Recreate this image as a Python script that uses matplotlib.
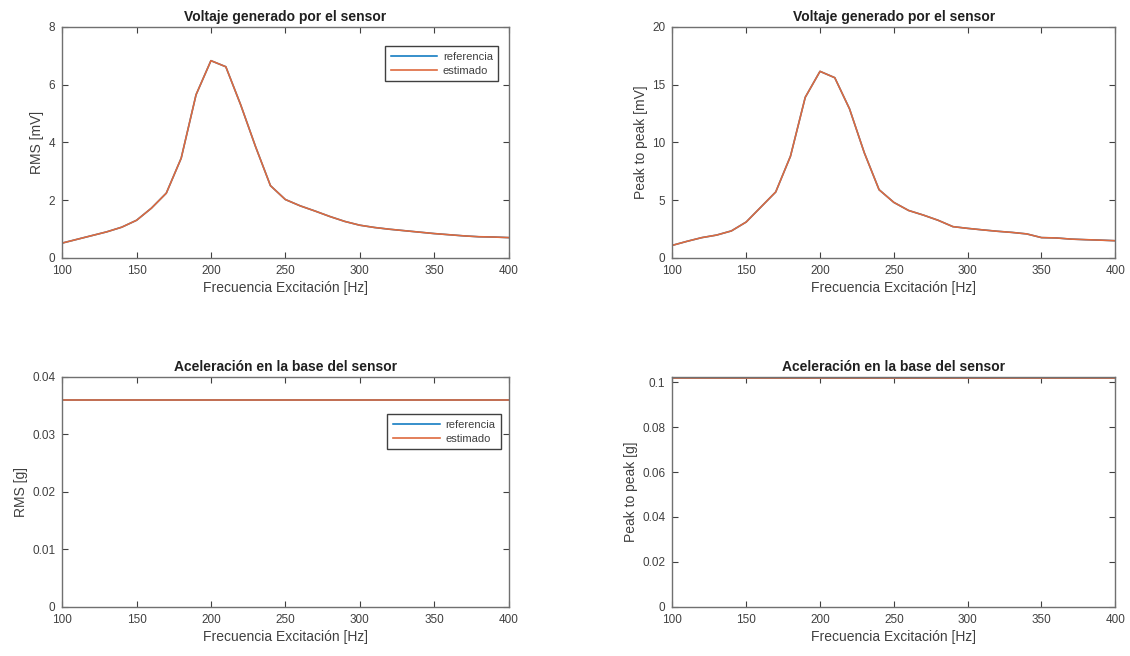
import numpy as np
import matplotlib
matplotlib.use("Agg")
from matplotlib import pyplot as plt

plt.rcParams['font.family'] = ['Liberation Sans', 'DejaVu Sans']

# excitation frequency [Hz]
freq = np.arange(100, 401, 10)

# sensor voltage, RMS [mV]
v_rms = [0.51, 0.64, 0.77, 0.90, 1.06, 1.30, 1.72, 2.24, 3.45, 5.65, 6.83,
         6.62, 5.30, 3.85, 2.50, 2.02, 1.80, 1.62, 1.43, 1.26, 1.13, 1.05,
         0.99, 0.94, 0.89, 0.84, 0.80, 0.76, 0.73, 0.72, 0.70]

# sensor voltage, peak to peak [mV]
v_pp = [1.08, 1.43, 1.75, 1.97, 2.33, 3.10, 4.40, 5.70, 8.80, 13.9, 16.15,
        15.6, 12.9, 9.10, 5.90, 4.80, 4.10, 3.70, 3.25, 2.70, 2.55, 2.42,
        2.30, 2.20, 2.07, 1.75, 1.72, 1.62, 1.57, 1.53, 1.48]

# base acceleration [g]
a_rms = [0.036] * len(freq)
a_pp = [0.102] * len(freq)

c_ref = '#0072BD'
c_est = '#DE6A3E'
tick_col = '#404040'

fig = plt.figure(figsize=(11.3, 6.56), dpi=100)

ax1 = fig.add_axes([0.055, 0.607, 0.395, 0.352])
ax2 = fig.add_axes([0.595, 0.607, 0.392, 0.352])
ax3 = fig.add_axes([0.055, 0.075, 0.395, 0.351])
ax4 = fig.add_axes([0.595, 0.075, 0.392, 0.351])

panels = [
    (ax1, v_rms, 'Voltaje generado por el sensor', 'RMS [mV]', (0, 8), np.arange(0, 9, 2)),
    (ax2, v_pp, 'Voltaje generado por el sensor', 'Peak to peak [mV]', (0, 20), np.arange(0, 21, 5)),
    (ax3, a_rms, 'Aceleración en la base del sensor', 'RMS [g]', (0, 0.04), [0, 0.01, 0.02, 0.03, 0.04]),
    (ax4, a_pp, 'Aceleración en la base del sensor', 'Peak to peak [g]', (0, 0.1025), [0, 0.02, 0.04, 0.06, 0.08, 0.1]),
]

for ax, vals, title, ylab, ylim, yt in panels:
    # referencia and estimado coincide, the estimate is drawn on top
    ax.plot(freq, vals, color=c_ref, lw=1.1, label='referencia')
    ax.plot(freq, vals, color=c_est, lw=1.2, label='estimado')
    ax.set_xlim(100, 400)
    ax.set_ylim(*ylim)
    ax.set_xticks(np.arange(100, 401, 50))
    ax.set_yticks(yt)
    ax.set_title(title, fontsize=10, fontweight='bold', color='#202020', pad=4)
    ax.set_xlabel('Frecuencia Excitación [Hz]', fontsize=10, color=tick_col, labelpad=3)
    ax.set_ylabel(ylab, fontsize=10, color=tick_col, labelpad=3)
    ax.tick_params(direction='in', top=True, right=True, length=4, width=0.8,
                   labelsize=8.5, colors=tick_col, pad=5)
    for s in ax.spines.values():
        s.set_color('#707070')
        s.set_linewidth(1.0)

ax3.set_yticklabels(['0', '0.01', '0.02', '0.03', '0.04'])
ax4.set_yticklabels(['0', '0.02', '0.04', '0.06', '0.08', '0.1'])

leg_kw = dict(fontsize=8, handlelength=4.2, handletextpad=0.5, borderpad=0.5,
              labelspacing=0.35, fancybox=False, edgecolor='#404040',
              framealpha=1)
l1 = ax1.legend(loc='upper right', bbox_to_anchor=(0.99, 0.94), **leg_kw)
l3 = ax3.legend(loc='upper right', bbox_to_anchor=(0.995, 0.86), **leg_kw)
for lg in (l1, l3):
    lg.get_frame().set_linewidth(1.0)
    for t in lg.get_texts():
        t.set_color(tick_col)

fig.savefig('out.png', dpi=100)
